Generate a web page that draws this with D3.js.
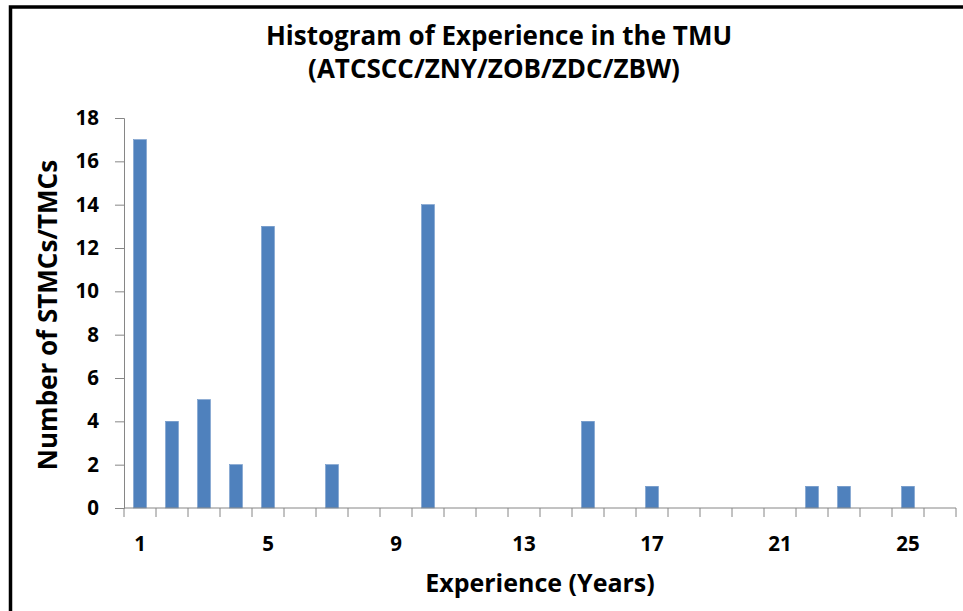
<!DOCTYPE html>
<html>
<head>
<meta charset="utf-8">
<script src="https://cdn.jsdelivr.net/npm/d3@7"></script>
<style>
  body { margin: 0; background: #fff; }
  svg text { font-family: "Open Sans", Lato, sans-serif; font-weight: bold; fill: #000; }
  .axis path, .axis line { stroke: #868686; }
</style>
</head>
<body>
<svg id="chart" width="963" height="611"></svg>
<script>
// experience in years, 1..26 on the axis
var years = d3.range(1, 27);
// count of STMCs/TMCs per year (years not listed are zero)
var counts = [17, 4, 5, 2, 13, 0, 2, 0, 0, 14, 0, 0, 0, 0, 4, 0, 1, 0, 0, 0, 0, 1, 1, 0, 1, 0];
var yTicks = [0, 2, 4, 6, 8, 10, 12, 14, 16, 18];
var xTickLabels = [1, 5, 9, 13, 17, 21, 25];

var W = 963, H = 611;
var margin = {top: 118, right: 7, bottom: 103, left: 124};
var width = W - margin.left - margin.right,
    height = H - margin.top - margin.bottom;

var svg = d3.select('#chart');

// frame around the picture (only top and left are visible)
svg.append('rect')
  .attr('x', 10.5).attr('y', 7)
  .attr('width', 980).attr('height', 640)
  .attr('fill', 'none')
  .attr('stroke', '#000')
  .attr('stroke-width', 3.5);

var g = svg.append('g')
  .attr('transform', 'translate(' + margin.left + ',' + margin.top + ')');

var x = d3.scaleBand()
  .domain(years)
  .range([0, 832])
  .paddingInner(0.6)
  .paddingOuter(0.3);

var y = d3.scaleLinear()
  .domain([0, 18])
  .range([height, 0]);

// bars
g.selectAll('rect.bar')
  .data(years)
  .enter().append('rect')
  .attr('class', 'bar')
  .attr('x', function (d) { return x(d); })
  .attr('y', function (d, i) { return y(counts[i]); })
  .attr('width', x.bandwidth())
  .attr('height', function (d, i) { return height - y(counts[i]); })
  .attr('fill', '#4F81BD')
  .attr('stroke', '#6F97C8')
  .attr('stroke-width', 0.6);

// y axis
var yAxis = d3.axisLeft(y).tickValues(yTicks).tickSize(9).tickPadding(16);
var gy = g.append('g').attr('class', 'axis').call(yAxis);
gy.selectAll('text').style('font-size', '20.5px');

// x axis: one tick between every band, labels only every 4 years
var step = x.step();
var gx = g.append('g').attr('class', 'axis')
  .attr('transform', 'translate(0,' + height + ')');
gx.append('line')
  .attr('x1', 0).attr('x2', 832)
  .attr('y1', 0).attr('y2', 0)
  .attr('stroke', '#868686');
gx.selectAll('line.tick')
  .data(d3.range(0, years.length + 1))
  .enter().append('line')
  .attr('class', 'tick')
  .attr('x1', function (d) { return d * step; })
  .attr('x2', function (d) { return d * step; })
  .attr('y1', 0).attr('y2', 9)
  .attr('stroke', '#868686');
gx.selectAll('text.lbl')
  .data(xTickLabels)
  .enter().append('text')
  .attr('class', 'lbl')
  .attr('x', function (d) { return x(d) + x.bandwidth() / 2; })
  .attr('y', 43)
  .attr('text-anchor', 'middle')
  .style('font-size', '20.5px')
  .text(function (d) { return d; });

// titles
svg.append('text')
  .attr('x', 499).attr('y', 45)
  .attr('text-anchor', 'middle')
  .style('font-size', '26px')
  .text('Histogram of Experience in the TMU');
svg.append('text')
  .attr('x', 494).attr('y', 78)
  .attr('text-anchor', 'middle')
  .style('font-size', '26px')
  .text('(ATCSCC/ZNY/ZOB/ZDC/ZBW)');

svg.append('text')
  .attr('x', 540).attr('y', 592)
  .attr('text-anchor', 'middle')
  .style('font-size', '25px')
  .text('Experience (Years)');

svg.append('text')
  .attr('transform', 'translate(57,315) rotate(-90)')
  .attr('text-anchor', 'middle')
  .style('font-size', '26px')
  .text('Number of STMCs/TMCs');
</script>
</body>
</html>
